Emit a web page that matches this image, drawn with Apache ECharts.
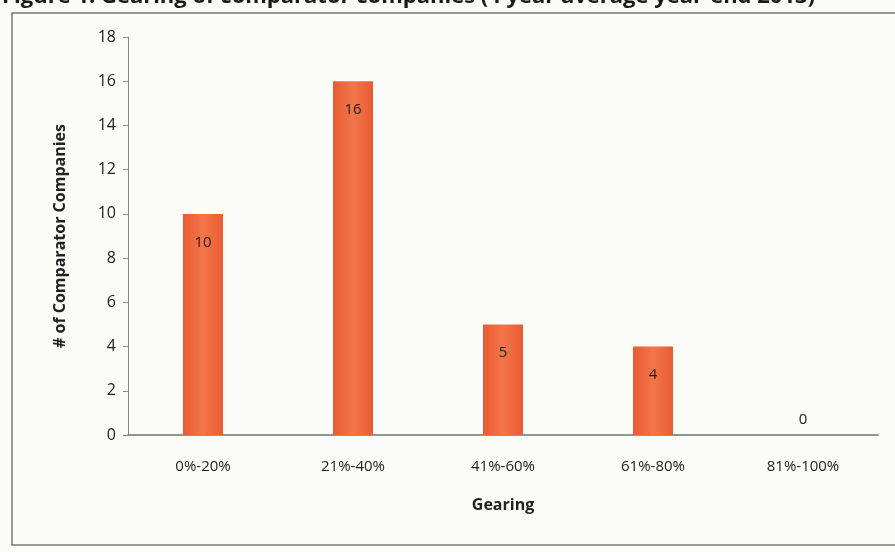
<!DOCTYPE html>
<html><head><meta charset="utf-8">
<script src="https://cdn.jsdelivr.net/npm/echarts@6/dist/echarts.min.js"></script>
<style>html,body{margin:0;padding:0;background:#fbfbf7;}#c{width:895px;height:552px;}</style>
</head><body><div id="c"></div>
<script>
const categories = ['0%-20%', '21%-40%', '41%-60%', '61%-80%', '81%-100%'];
const companies = [10, 16, 5, 4, 0];
const yTicks = [0, 2, 4, 6, 8, 10, 12, 14, 16, 18];
const titleText = 'Figure 1: Gearing of comparator companies (4 year average year-end 2013)';

const chart = echarts.init(document.getElementById('c'));
const font = '"Open Sans", Lato, sans-serif';
chart.setOption({
  backgroundColor: '#fbfbf7',
  animation: false,
  graphic: [
    { type: 'rect', shape: { x: 12, y: 13, width: 900, height: 532 }, style: { fill: 'none', stroke: '#777', lineWidth: 1.5 } },
    { type: 'text', left: 2, top: -14, style: { text: titleText, font: 'bold 22px ' + font, fill: '#1a1a1a' } }
  ],
  grid: { left: 128, right: 17, top: 37, bottom: 117 },
  xAxis: {
    type: 'category', data: categories,
    name: 'Gearing', nameLocation: 'middle', nameGap: 62,
    nameTextStyle: { fontFamily: font, fontWeight: 'bold', fontSize: 16, color: '#222' },
    axisLine: { lineStyle: { color: '#6b7a6b', width: 1.5 } },
    axisTick: { show: false },
    axisLabel: { fontFamily: font, fontSize: 15, color: '#222', margin: 24 }
  },
  yAxis: {
    type: 'value', min: 0, max: 18, interval: 2,
    name: '# of Comparator Companies', nameLocation: 'middle', nameGap: 60,
    nameTextStyle: { fontFamily: font, fontWeight: 'bold', fontSize: 16, color: '#222' },
    axisLine: { show: true, lineStyle: { color: '#888', width: 1 } },
    axisTick: { show: true, length: 5, lineStyle: { color: '#888' } },
    splitLine: { show: false },
    axisLabel: { fontFamily: font, fontSize: 16, color: '#222', margin: 12,
      formatter: v => yTicks.includes(v) ? String(v) : '' }
  },
  series: [{
    type: 'bar', barWidth: 40,
    data: companies.map(v => v === 0
      ? { value: v, label: { position: 'top', distance: 8 } }
      : { value: v }),
    itemStyle: {
      color: new echarts.graphic.LinearGradient(0, 0, 1, 0, [
        { offset: 0, color: '#e95b32' }, { offset: 0.5, color: '#f3754c' }, { offset: 1, color: '#e95b32' }
      ])
    },
    label: { show: true, position: 'insideTop', distance: 21, fontFamily: font, fontSize: 15, color: '#222' }
  }]
});
</script></body></html>
